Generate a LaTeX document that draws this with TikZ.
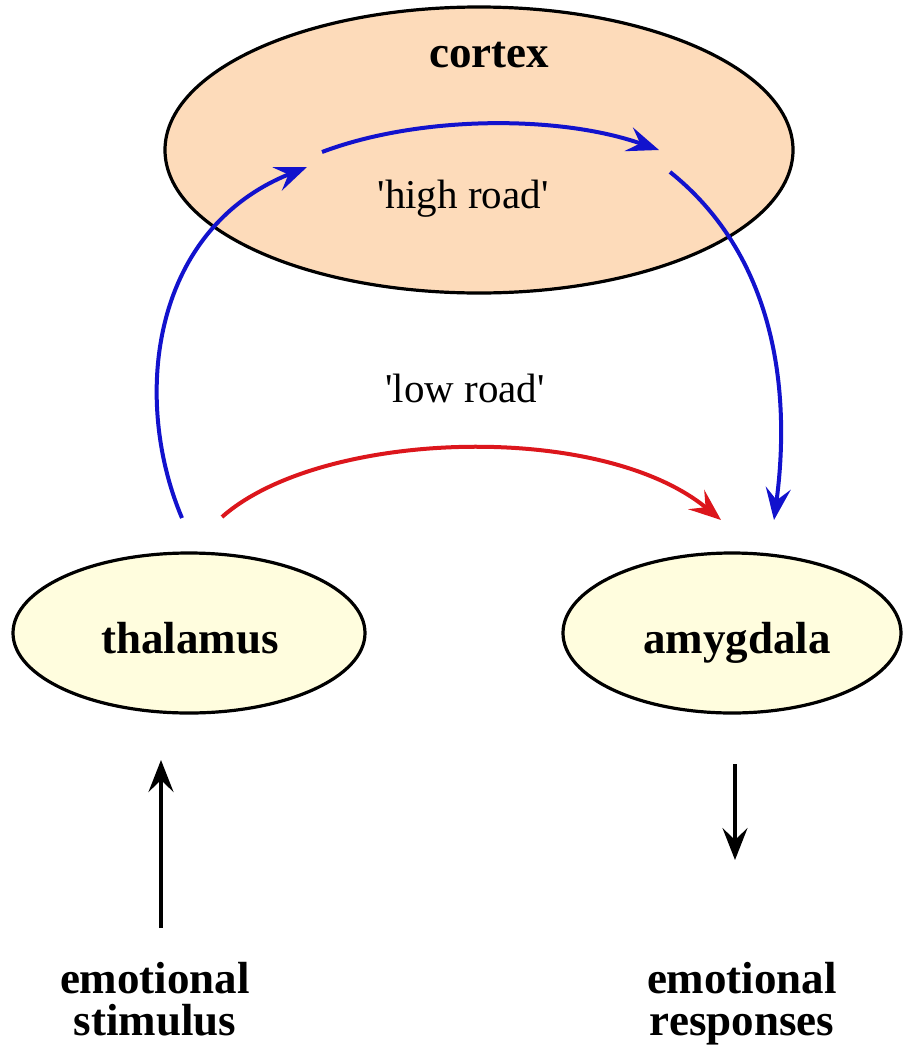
\documentclass[tikz,border=0pt]{standalone}
\usepackage{fontspec}
\setmainfont{Liberation Serif}
\usetikzlibrary{shapes.geometric,arrows.meta}
\definecolor{cortexfill}{RGB}{253,219,186}
\definecolor{nucfill}{RGB}{255,253,222}
\definecolor{roadblue}{RGB}{18,18,205}
\definecolor{roadred}{RGB}{220,22,28}
\tikzset{
  region/.style={ellipse, draw=black, line width=3.2pt, inner sep=0pt},
  boldlabel/.style={font=\fontsize{45}{42}\selectfont\bfseries, align=center, inner sep=0pt, anchor=base},
  plainlabel/.style={font=\fontsize{41}{44}\selectfont, inner sep=0pt, anchor=base},
  tip/.style={-{Stealth[length=32pt, width=25pt, inset=12pt]}},
  bluepath/.style={tip, draw=roadblue, line width=4pt},
  redpath/.style={tip, draw=roadred, line width=4pt},
  blackpath/.style={tip, draw=black, line width=3.6pt},
}
\begin{document}
\begin{tikzpicture}[x=1pt,y=-1pt]
\useasboundingbox (0,0) rectangle (904,1047);
\fill[white] (0,0) rectangle (904,1047);
% regions
\node[region, fill=cortexfill, minimum width=628pt, minimum height=286pt] (cortex) at (479,150) {};
\node[region, fill=nucfill, minimum width=352pt, minimum height=160pt] (thalamus) at (189,633) {};
\node[region, fill=nucfill, minimum width=338pt, minimum height=160pt] (amygdala) at (732,633) {};
% labels
\node[boldlabel] (cortexlbl) at (489,67) {cortex};
\node[boldlabel] (thallbl) at (190,653) {thalamus};
\node[boldlabel] (amylbl) at (737,653) {amygdala};
\node[plainlabel] (highlbl) at (463,208) {\textquotesingle high road\textquotesingle};
\node[plainlabel] (lowlbl) at (465,402) {\textquotesingle low road\textquotesingle};
\node[boldlabel] (stim) at (155,1035) {emotional\\stimulus};
\node[boldlabel] (resp) at (742,1035) {emotional\\responses};
% path end points
\coordinate (tl) at (182,518);
\coordinate (tr) at (222,517);
\coordinate (cin) at (307,167);
\coordinate (ca) at (322,152);
\coordinate (cb) at (659,150);
\coordinate (cout) at (670,172);
\coordinate (al) at (721,520);
\coordinate (ar) at (774,520);
\coordinate (stimtop) at (161,760);
\coordinate (stimbot) at (161,928);
\coordinate (resptop) at (735,764);
\coordinate (respbot) at (735,860);
% high road
\draw[bluepath] (tl) .. controls (132,400) and (150,230) .. (cin);
\draw[bluepath] (ca) .. controls (420,115) and (560,115) .. (cb);
\draw[bluepath] (cout) .. controls (780,260) and (790,400) .. (ar);
% low road
\draw[redpath] (tr) .. controls (320,430) and (600,420) .. (al);
% input/output
\draw[blackpath] (stimbot) -- (stimtop);
\draw[blackpath] (resptop) -- (respbot);
\end{tikzpicture}
\end{document}
